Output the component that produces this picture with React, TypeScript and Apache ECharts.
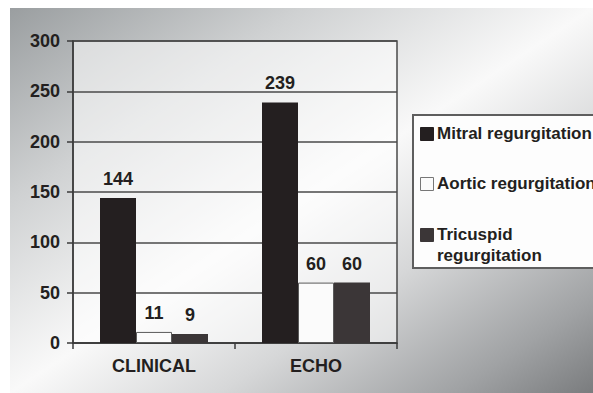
import React, { useEffect, useRef } from "react";
import * as echarts from "echarts";

const categories = ["CLINICAL", "ECHO"];
const seriesNames = ["Mitral regurgitation", "Aortic regurgitation", "Tricuspid\nregurgitation"];
const mitral = [144, 239];
const aortic = [11, 60];
const tricuspid = [9, 60];
const yTicks = { min: 0, max: 300, interval: 50 };

const FONT = "'Liberation Sans', Arial, sans-serif";
const colors = ["#241f20", "#fbfbfb", "#3b3637"];
const borders = ["#241f20", "#5a5a5a", "#3b3637"];

export default function App() {
  const ref = useRef<HTMLDivElement>(null);
  useEffect(() => {
    if (!ref.current) return;
    const chart = echarts.init(ref.current, null, { renderer: "svg" });
    const values = [mitral, aortic, tricuspid];
    const labelStyle = {
      show: true,
      position: "top",
      distance: 10,
      fontSize: 18,
      fontWeight: "bold",
      color: "#231f20",
      fontFamily: FONT,
    };
    const legendTop = [119, 169, 220];
    const legendEls: any[] = [
      {
        type: "rect",
        shape: { x: 403, y: 107, width: 220, height: 153 },
        style: { fill: "#fdfdfd", stroke: "#5e5e5e", lineWidth: 2 },
        z: 100,
      },
    ];
    seriesNames.forEach((n, i) => {
      legendEls.push({
        type: "rect",
        shape: { x: 410.5, y: legendTop[i] + 0.5, width: 13, height: 13 },
        style: { fill: colors[i], stroke: i === 1 ? "#777" : colors[i], lineWidth: 1 },
        z: 101,
      });
      legendEls.push({
        type: "text",
        x: 427,
        y: legendTop[i] + 6.5 - 10.5,
        style: {
          text: n,
          fontSize: 17,
          fontWeight: "bold",
          fontFamily: FONT,
          fill: "#231f20",
          lineHeight: 21,
          textVerticalAlign: "top",
          verticalAlign: "top",
        },
        z: 101,
      });
    });

    chart.setOption({
      animation: false,
      backgroundColor: new echarts.graphic.LinearGradient(0, 0, 1, 1, [
        { offset: 0, color: "#9a9ea0" },
        { offset: 0.25, color: "#cfd1d2" },
        { offset: 0.5, color: "#f9f9f9" },
        { offset: 0.68, color: "#d6d7d8" },
        { offset: 0.88, color: "#a0a2a4" },
        { offset: 1, color: "#7a7c7e" },
      ]),
      grid: {
        left: 63,
        top: 33,
        right: 196,
        bottom: 50,
        show: true,
        backgroundColor: "rgba(255,255,255,0.55)",
        borderColor: "#4a4a4a",
        borderWidth: 1.5,
      },
      xAxis: {
        type: "category",
        data: categories,
        axisLine: { lineStyle: { color: "#3a3a3a", width: 1.5 } },
        axisTick: { show: true, length: 6, alignWithLabel: false, lineStyle: { color: "#3a3a3a", width: 1.5 } },
        axisLabel: { fontSize: 18, fontWeight: "bold", color: "#231f20", margin: 14, fontFamily: FONT },
      },
      yAxis: {
        type: "value",
        min: yTicks.min,
        max: yTicks.max,
        interval: yTicks.interval,
        axisLine: { show: true, lineStyle: { color: "#3a3a3a", width: 1.5 } },
        axisTick: { show: true, length: 6, lineStyle: { color: "#3a3a3a", width: 1.5 } },
        splitLine: { show: true, lineStyle: { color: "#4a4a4a", width: 1.5 } },
        axisLabel: { fontSize: 18, fontWeight: "bold", color: "#231f20", margin: 13, fontFamily: FONT },
      },
      series: values.map((d, i) => ({
        type: "bar",
        name: seriesNames[i],
        data: d,
        barWidth: 36,
        barGap: "0%",
        itemStyle: { color: colors[i], borderColor: borders[i], borderWidth: i === 1 ? 1 : 0 },
        label: labelStyle,
      })),
      graphic: { elements: legendEls },
    });
    return () => chart.dispose();
  }, []);
  return (
    <div
      ref={ref}
      style={{ position: "absolute", left: 10, top: 8, width: 583, height: 385 }}
    />
  );
}
